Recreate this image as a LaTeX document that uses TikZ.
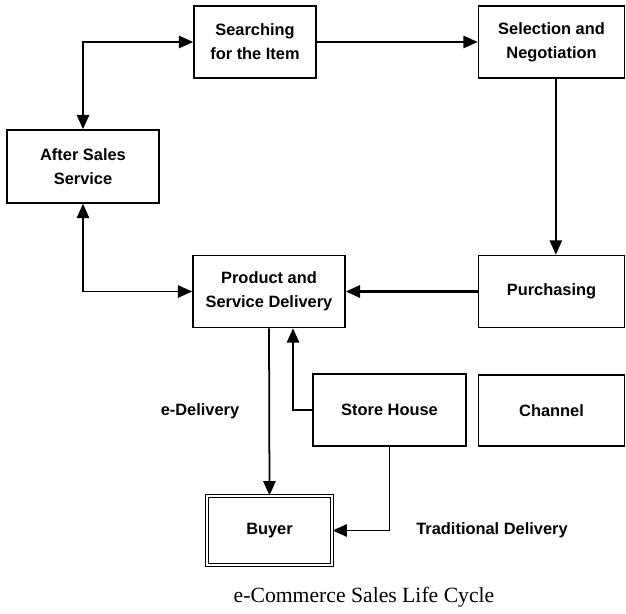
\documentclass[tikz,border=0pt]{standalone}
\usepackage{fontspec}
\setmainfont{Liberation Serif}
\setsansfont{Liberation Sans}
\usetikzlibrary{arrows.meta}

\begin{document}
\begin{tikzpicture}[x=0.3mm,y=-0.3mm,every node/.style={font=\sffamily\bfseries\fontsize{14}{20.5}\selectfont,align=center},box/.style={draw,line width=1.4pt,inner sep=2pt,minimum height=21.6mm},link/.style={line width=1.5pt,-{Triangle[length=4.3mm,width=3.7mm]}},both/.style={link,{Triangle[length=4.3mm,width=3.7mm]}-{Triangle[length=4.3mm,width=3.7mm]}}]
\useasboundingbox (0,0) rectangle (626,613);
\node[box,minimum width=36.6mm] (search) at (255,42){Searching\\for the Item};\node[box,minimum width=43.8mm] (select) at (551.5,42){Selection and\\Negotiation};
\node[box,minimum width=45.6mm,minimum height=21.9mm] (after) at (83,166.5){After Sales\\Service};
\node[box,minimum width=45.6mm] (deliv) at (269,291.5){Product and\\Service Delivery};\node[box,minimum width=43.8mm] (purch) at (551.5,291.5){Purchasing};
\node[box,minimum width=45.9mm] (store) at (389.5,410){Store House};\node[box,minimum width=43.8mm,minimum height=21.3mm] (channel) at (551.5,410.5){Channel};
\node[draw,double,line width=1pt,double distance=1.2pt,inner sep=2pt,minimum width=37.5mm,minimum height=20.7mm] (buyer) at (269.5,530.5){Buyer};
\node (edel) at (200,411){e-Delivery};\node (tdel) at (492,530){Traditional Delivery};
\node[font=\rmfamily\fontsize{18.5}{20}\selectfont] (title) at (364,597){e-Commerce Sales Life Cycle};
\draw[both] (after.north) |- (search.west);\draw[link] (search.east) -- (select.west);
\draw[link] ([xshift=1.3mm]select.south) -- ([xshift=1.3mm]purch.north);\draw[link,line width=2.2pt] (purch.west) -- (deliv.east);
\draw[both] (after.south) |- (deliv.west);\draw[link] (deliv.south) -- (buyer.north);
\draw[link] (store.west) -| ([xshift=7.2mm]deliv.south);\draw[link] (store.south) |- (buyer.east);
\end{tikzpicture}
\end{document}
